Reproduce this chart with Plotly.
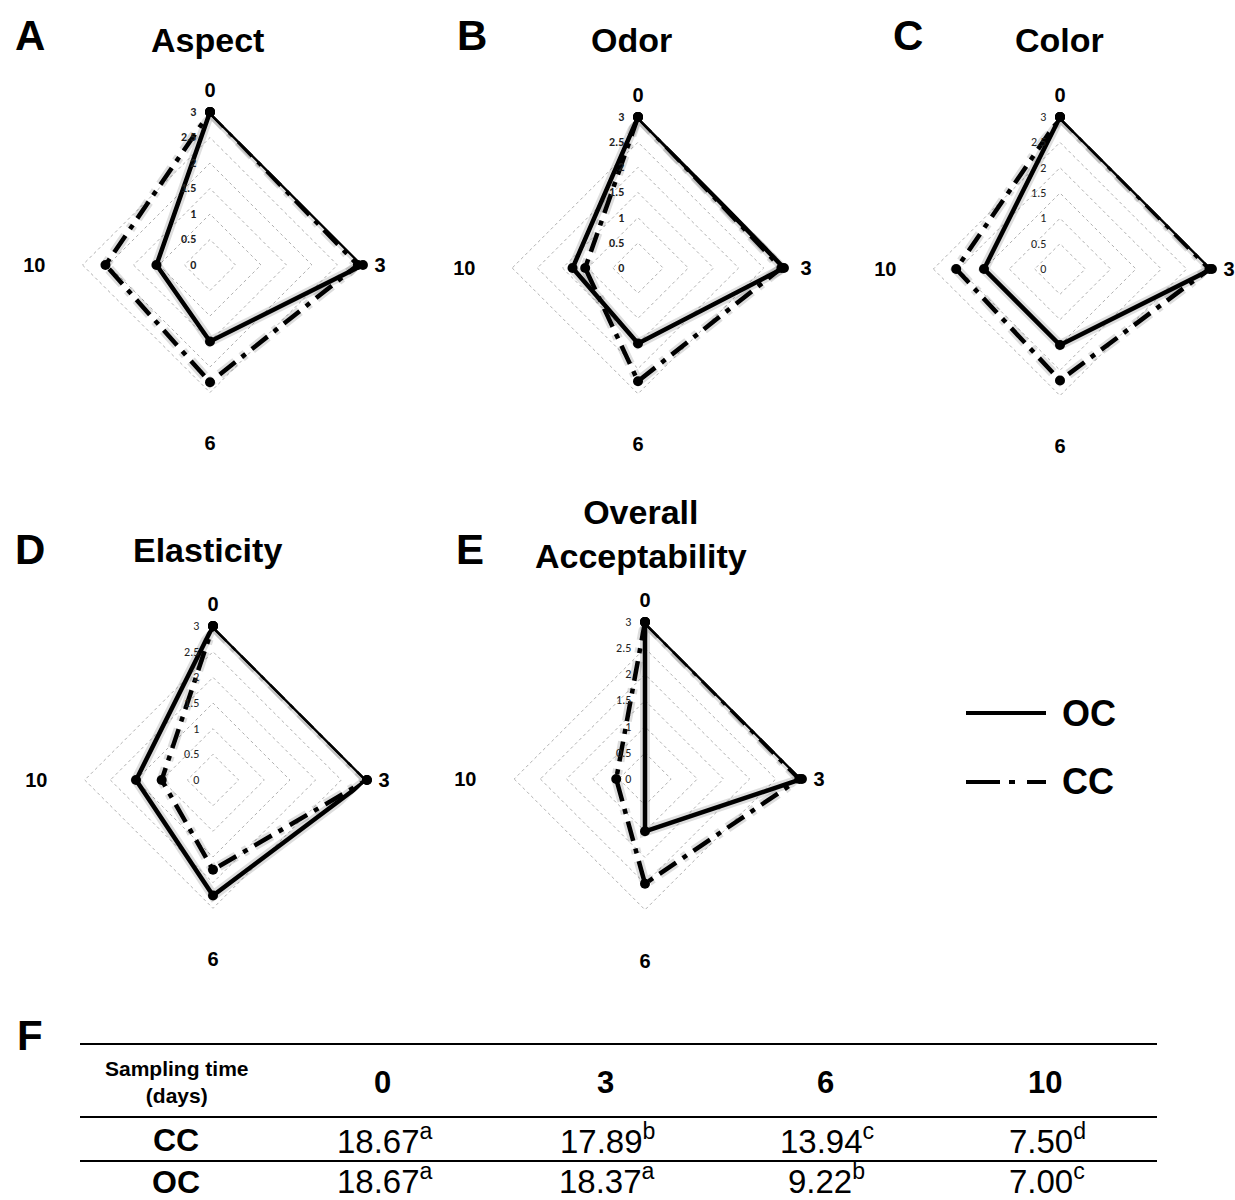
import plotly.graph_objects as go

W, H = 1235, 1200

# Sampling days shown on the angular axis (clockwise from the top)
days = ["0", "3", "6", "10"]

# Sensory scores (0-3 scale) for the two coatings
oc_aspect = [3.0, 3.0, 1.5, 1.05]
cc_aspect = [3.0, 2.9, 2.3, 2.05]

oc_odor = [3.0, 2.9, 1.5, 1.3]
cc_odor = [3.0, 2.85, 2.25, 1.05]

oc_color = [3.0, 3.0, 1.5, 1.5]
cc_color = [3.0, 2.95, 2.2, 2.05]

oc_elasticity = [3.0, 3.0, 2.25, 1.5]
cc_elasticity = [3.0, 3.0, 1.75, 1.0]

oc_overall = [3.0, 3.0, 1.0, 0.0]
cc_overall = [3.0, 2.95, 2.0, 0.55]

panel_titles = ["Aspect", "Odor", "Color", "Elasticity", "Overall<br>Acceptability"]
panel_letters = ["A", "B", "C", "D", "E"]

# Table F: scores per sampling day with significance letters
table_days = ["0", "3", "6", "10"]
cc_scores = ["18.67", "17.89", "13.94", "7.50"]
cc_letters = ["a", "b", "c", "d"]
oc_scores = ["18.67", "18.37", "9.22", "7.00"]
oc_letters = ["a", "a", "b", "c"]

oc_series = [oc_aspect, oc_odor, oc_color, oc_elasticity, oc_overall]
cc_series = [cc_aspect, cc_odor, cc_color, cc_elasticity, cc_overall]

# Centre (px) and radius (px) of each radar panel
panels = [
    dict(cx=210, cy=265, R=153, bold=True),
    dict(cx=638, cy=268, R=151, bold=True),
    dict(cx=1060, cy=269, R=152, bold=False),
    dict(cx=213, cy=780, R=154, bold=False),
    dict(cx=645, cy=779, R=157, bold=False),
]

FONT = "Liberation Sans, Arial, sans-serif"
TICKFONT = "Carlito, Calibri, Liberation Sans, sans-serif"
CC_DASH = "20px,8px,5px,8px"
HALO = "rgba(0,0,0,0.13)"

fig = go.Figure()
layout_polars = {}

for i, (p, oc, cc) in enumerate(zip(panels, oc_series, cc_series)):
    name = "polar" if i == 0 else f"polar{i + 1}"
    theta = days + [days[0]]
    r_cc = cc + [cc[0]]
    r_oc = oc + [oc[0]]
    # soft shadow under each outline
    fig.add_trace(go.Scatterpolar(
        r=r_cc, theta=theta, subplot=name, mode="lines",
        line=dict(color=HALO, width=10, dash=CC_DASH),
        hoverinfo="skip", showlegend=False))
    fig.add_trace(go.Scatterpolar(
        r=r_oc, theta=theta, subplot=name, mode="lines",
        line=dict(color=HALO, width=10),
        hoverinfo="skip", showlegend=False))
    fig.add_trace(go.Scatterpolar(
        r=r_cc, theta=theta, subplot=name, mode="lines+markers",
        line=dict(color="black", width=4.5, dash=CC_DASH),
        marker=dict(color="black", size=10), showlegend=False, name="CC"))
    fig.add_trace(go.Scatterpolar(
        r=r_oc, theta=theta, subplot=name, mode="lines+markers",
        line=dict(color="black", width=4.5),
        marker=dict(color="black", size=10), showlegend=False, name="OC"))

    cx, cy, R = p["cx"], p["cy"], p["R"]
    layout_polars[name] = dict(
        domain=dict(x=[(cx - R) / W, (cx + R) / W],
                    y=[1 - (cy + R) / H, 1 - (cy - R) / H]),
        bgcolor="white",
        gridshape="linear",
        radialaxis=dict(
            range=[0, 3.001], tick0=0, dtick=0.5, angle=90, tickangle=90,
            side="counterclockwise",
            showline=False, ticks="outside", ticklen=9,
            tickcolor="rgba(0,0,0,0)", showgrid=True,
            gridcolor="#b0b0b0", griddash="dot", gridwidth=1,
            tickfont=dict(size=12, family=TICKFONT, color="#222",
                          weight="bold" if p["bold"] else "normal"),
        ),
        angularaxis=dict(
            type="category", categoryarray=days, direction="clockwise",
            rotation=90, showgrid=False, showline=False,
            ticks="outside", ticklen=7, tickcolor="rgba(0,0,0,0)",
            tickfont=dict(size=20, family=FONT, color="black", weight="bold"),
        ),
    )

annotations = []


def label(x, y, text, size, **kw):
    d = dict(x=x / W, y=1 - y / H, xref="paper", yref="paper",
             xanchor="center", yanchor="middle", text=text, showarrow=False,
             font=dict(size=size, family=FONT, color="black"))
    d.update(kw)
    annotations.append(d)


# Panel letters and titles
letter_pos = [(30, 35), (472, 35), (908, 35), (30, 550), (470, 550)]
title_pos = [(207, 40), (631, 40), (1059, 40), (207, 550), (641, 534)]
for letter, (lx, ly) in zip(panel_letters, letter_pos):
    label(lx, ly, f"<b>{letter}</b>", 42)
for title, (tx, ty) in zip(panel_titles, title_pos):
    label(tx, ty, f"<b>{title}</b>", 34)
label(30, 1035, "<b>F</b>", 42)

shapes = []

# Legend drawn as sample strokes with labels
legend_items = [("OC", 713, None), ("CC", 782, "34px,9px,6px,12px")]
for name, ly, dash in legend_items:
    line = dict(color="black", width=4)
    if dash:
        line["dash"] = dash
    shapes.append(dict(type="line", xref="paper", yref="paper",
                       x0=966 / W, x1=1046 / W, y0=1 - ly / H, y1=1 - ly / H,
                       line=line))
    label(1060, ly, f"<b>{name}</b>", 36, xanchor="left")

# Table F
for yl in (1044, 1117, 1161):
    shapes.append(dict(type="line", xref="paper", yref="paper",
                       x0=80 / W, x1=1157 / W, y0=1 - yl / H, y1=1 - yl / H,
                       line=dict(color="black", width=2)))

col_x = [383, 605, 825, 1045]
label(177, 1082, "<b>Sampling time<br>(days)</b>", 21)
for cx, d in zip(col_x, table_days):
    label(cx, 1082, f"<b>{d}</b>", 31)

rows = [("CC", 1140, 1139, cc_scores, cc_letters),
        ("OC", 1182, 1179, oc_scores, oc_letters)]
for name, ry, vy, scores, letters in rows:
    label(176, ry, f"<b>{name}</b>", 32)
    for cx, s, l in zip(col_x, scores, letters):
        label(cx + 2, vy, f"{s}<sup>{l}</sup>", 33)

fig.update_layout(
    width=W, height=H,
    margin=dict(l=0, r=0, t=0, b=0),
    paper_bgcolor="white",
    plot_bgcolor="white",
    showlegend=False,
    annotations=annotations,
    shapes=shapes,
    **layout_polars,
)

fig.write_html("out.html")
